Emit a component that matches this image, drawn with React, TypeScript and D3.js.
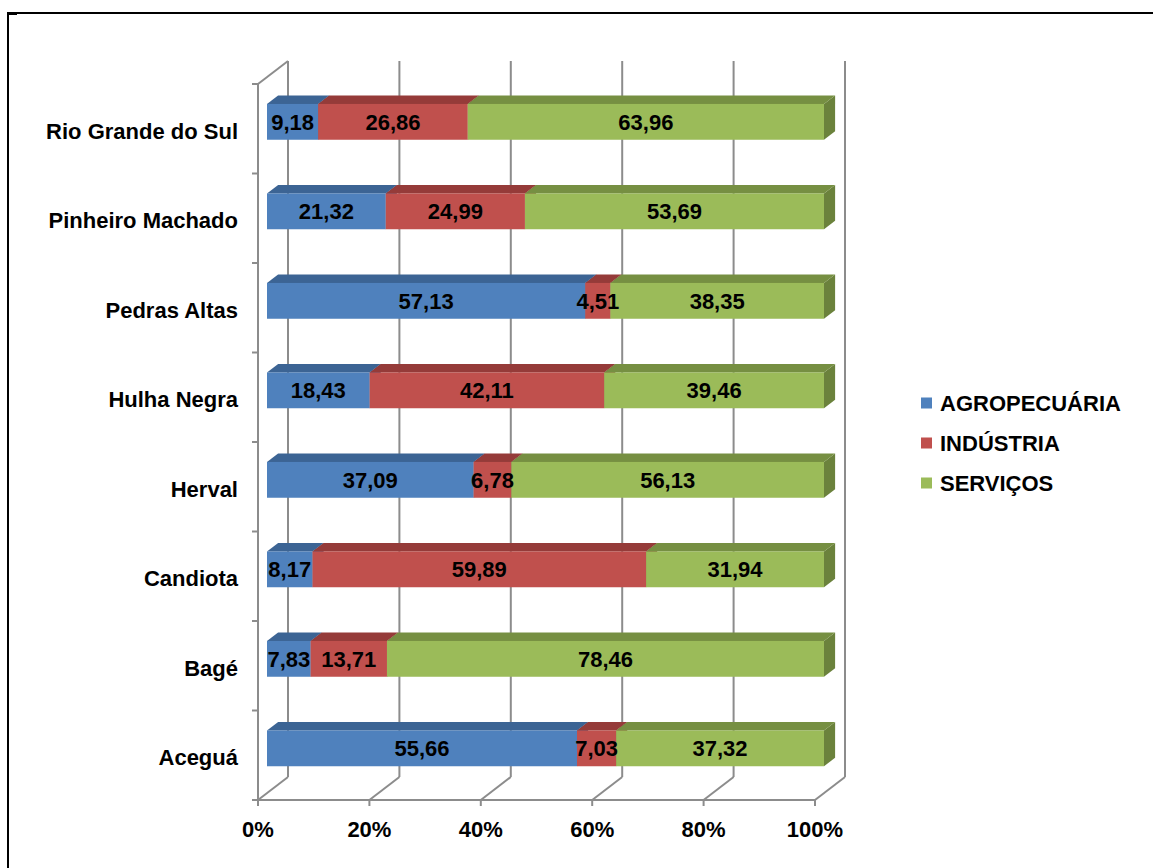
import React from 'react';
import * as d3 from 'd3';

const categories = [
  'Rio Grande do Sul',
  'Pinheiro Machado',
  'Pedras Altas',
  'Hulha Negra',
  'Herval',
  'Candiota',
  'Bagé',
  'Aceguá',
];

const agropecuaria = [9.18, 21.32, 57.13, 18.43, 37.09, 8.17, 7.83, 55.66];
const industria = [26.86, 24.99, 4.51, 42.11, 6.78, 59.89, 13.71, 7.03];
const servicos = [63.96, 53.69, 38.35, 39.46, 56.13, 31.94, 78.46, 37.32];

const seriesNames = ['AGROPECUÁRIA', 'INDÚSTRIA', 'SERVIÇOS'];
const xTicks = [0, 0.2, 0.4, 0.6, 0.8, 1];

// front, top, side colours per series
const colors = [
  { front: '#4F81BD', top: '#3C6494', side: '#385D8A' },
  { front: '#C0504D', top: '#953B39', side: '#8C3836' },
  { front: '#9BBB59', top: '#768F42', side: '#6B823C' },
];

const FONT = '"Liberation Sans", Arial, sans-serif';
const FS = 22;

export default function App() {
  const width = 1153;
  const height = 868;

  // front plane of the 3d box
  const left = 258;
  const right = 815;
  const top = 84;
  const bottom = 800;
  const depth = { x: 30, y: -23 };
  // bar sits between these depth fractions
  const barFront = 0.3;
  const barBack = 0.67;

  const x = d3.scaleLinear().domain([0, 1]).range([left, right]);
  const y = d3.scaleBand<string>()
    .domain(categories)
    .range([top, bottom])
    .paddingInner(0.6)
    .paddingOuter(0.3);
  const step = y.step();

  const rows = categories.map((c, i) => ({
    name: c,
    agro: agropecuaria[i],
    ind: industria[i],
    serv: servicos[i],
  }));
  const keys = ['agro', 'ind', 'serv'];
  const stack = d3.stack<any>().keys(keys).offset(d3.stackOffsetExpand);
  const series = stack(rows);

  const fx = depth.x * barFront;
  const fy = depth.y * barFront;
  const bx = depth.x * (barBack - barFront);
  const by = depth.y * (barBack - barFront);

  const fmt = (v: number) => v.toFixed(2).replace('.', ',');
  const grid = '#8C8C8C';

  return (
    <svg
      width={width}
      height={height}
      style={{ position: 'absolute', left: 0, top: 0, background: '#fff' }}
    >
      {/* page frame */}
      <line x1={8} y1={13} x2={width} y2={13} stroke="#000" strokeWidth={2} />
      <line x1={8} y1={12} x2={8} y2={height} stroke="#000" strokeWidth={2} />
      <rect x={7} y={12} width={10} height={3} fill="#000" />

      {/* back wall gridlines */}
      {xTicks.map((t) => (
        <line
          key={`g${t}`}
          x1={x(t) + depth.x}
          x2={x(t) + depth.x}
          y1={top + depth.y}
          y2={bottom + depth.y}
          stroke={grid}
          strokeWidth={2}
        />
      ))}
      {/* floor diagonals */}
      {xTicks.map((t) => (
        <line
          key={`f${t}`}
          x1={x(t)}
          y1={bottom}
          x2={x(t) + depth.x}
          y2={bottom + depth.y}
          stroke={grid}
          strokeWidth={2}
        />
      ))}
      {/* left wall */}
      <line x1={left} x2={left} y1={top} y2={bottom} stroke={grid} strokeWidth={2} />
      <line x1={left} y1={top} x2={left + depth.x} y2={top + depth.y} stroke={grid} strokeWidth={2} />
      <line x1={left} x2={right} y1={bottom} y2={bottom} stroke={grid} strokeWidth={2} />
      {d3.range(categories.length + 1).map((i) => (
        <line
          key={`yt${i}`}
          x1={left - 6}
          x2={left}
          y1={top + i * step}
          y2={top + i * step}
          stroke={grid}
          strokeWidth={2}
        />
      ))}
      {xTicks.map((t) => (
        <line
          key={`xt${t}`}
          x1={x(t)}
          x2={x(t)}
          y1={bottom}
          y2={bottom + 6}
          stroke={grid}
          strokeWidth={2}
        />
      ))}

      {/* bars */}
      {rows.map((r, ri) => {
        const y0 = (y(r.name) as number) + fy;
        const h = y.bandwidth();
        return (
          <g key={r.name}>
            {series.map((s, si) => {
              const d = s[ri];
              const x0 = x(d[0]) + fx;
              const x1 = x(d[1]) + fx;
              const c = colors[si];
              const topFace = `M${x0},${y0} L${x0 + bx},${y0 + by} L${x1 + bx},${y0 + by} L${x1},${y0} Z`;
              const sideFace = `M${x1},${y0} L${x1 + bx},${y0 + by} L${x1 + bx},${y0 + h + by} L${x1},${y0 + h} Z`;
              return (
                <g key={si}>
                  <path d={sideFace} fill={c.side} />
                  <path d={topFace} fill={c.top} />
                  <rect x={x0} y={y0} width={x1 - x0} height={h} fill={c.front} />
                </g>
              );
            })}
            {series.map((s, si) => {
              const d = s[ri];
              const v = [r.agro, r.ind, r.serv][si];
              const cx = (x(d[0]) + x(d[1])) / 2 + fx;
              return (
                <text
                  key={`l${si}`}
                  x={cx}
                  y={y0 + h / 2}
                  dy="0.36em"
                  textAnchor="middle"
                  fontFamily={FONT}
                  fontWeight="bold"
                  fontSize={FS}
                  fill="#000"
                >
                  {fmt(v)}
                </text>
              );
            })}
          </g>
        );
      })}

      {/* category labels */}
      {categories.map((c) => (
        <text
          key={c}
          x={238}
          y={(y(c) as number) + y.bandwidth() / 2 + 2}
          dy="0.36em"
          textAnchor="end"
          fontFamily={FONT}
          fontWeight="bold"
          fontSize={FS}
          fill="#000"
        >
          {c}
        </text>
      ))}

      {/* x tick labels */}
      {xTicks.map((t) => (
        <text
          key={`xl${t}`}
          x={x(t)}
          y={829}
          dy="0.36em"
          textAnchor="middle"
          fontFamily={FONT}
          fontWeight="bold"
          fontSize={FS}
          fill="#000"
        >
          {d3.format('.0%')(t)}
        </text>
      ))}

      {/* legend */}
      {seriesNames.map((n, i) => (
        <g key={n} transform={`translate(921, ${403 + i * 40})`}>
          <rect x={0} y={-5.5} width={11} height={11} fill={colors[i].front} />
          <text
            x={19}
            y={0}
            dy="0.36em"
            fontFamily={FONT}
            fontWeight="bold"
            fontSize={FS}
            fill="#000"
          >
            {n}
          </text>
        </g>
      ))}
    </svg>
  );
}
